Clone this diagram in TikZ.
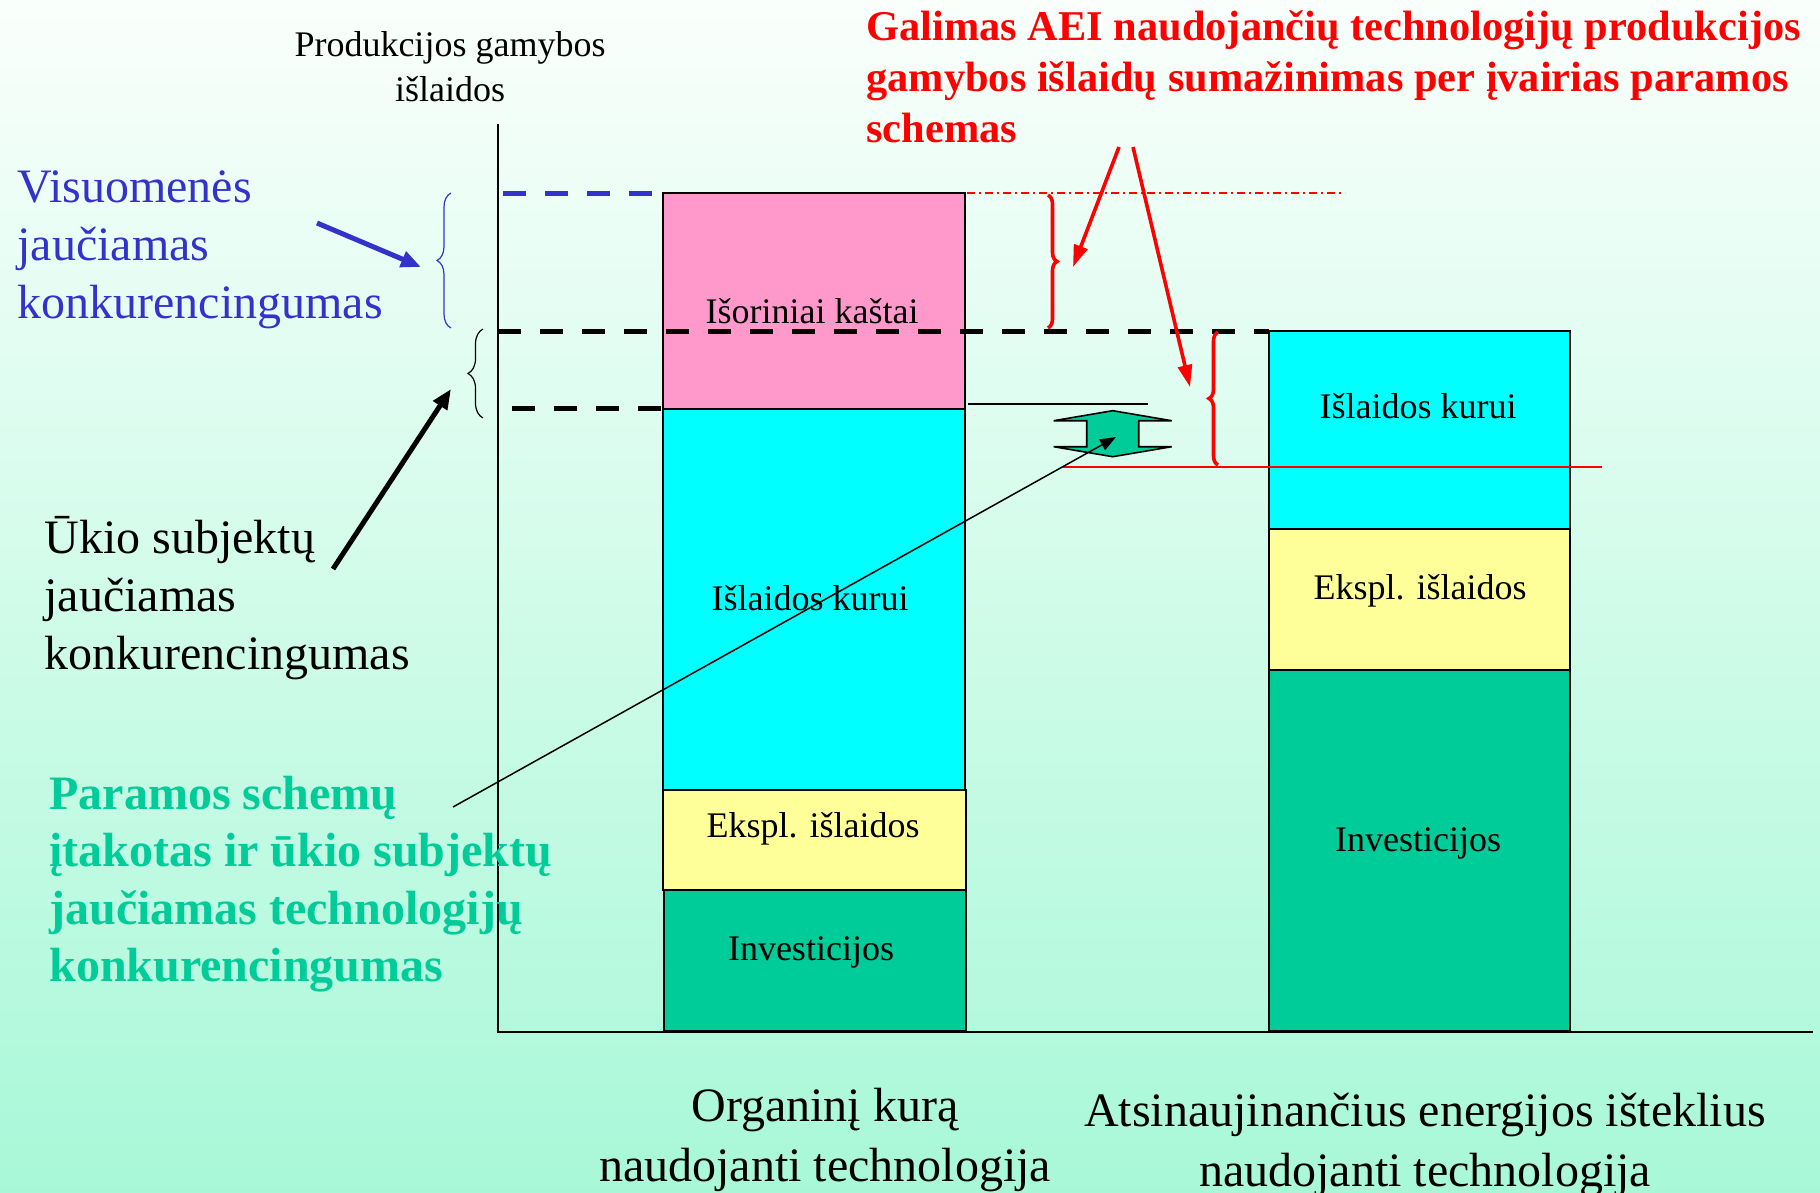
\documentclass[tikz,border=0pt]{standalone}
\usepackage{fontspec}
\setmainfont{Liberation Serif}
\usetikzlibrary{arrows.meta, positioning, calc, decorations.pathreplacing}
\definecolor{fonvirsus}{RGB}{250,255,252}
\definecolor{fonapacia}{RGB}{168,248,216}
\definecolor{rozine}{RGB}{255,153,204}
\definecolor{zydra}{RGB}{0,255,255}
\definecolor{geltona}{RGB}{255,255,153}
\definecolor{zalia}{RGB}{0,204,153}
\definecolor{melyna}{RGB}{51,51,204}
\definecolor{raudona}{RGB}{255,0,0}

\begin{document}
\begin{tikzpicture}[x=0.5pt, y=-0.5pt, font=\fontsize{18}{22.5}\selectfont,
        juosta/.style={draw=black, line width=1pt},
        didelis/.style={font=\fontsize{24}{29}\selectfont, align=left, anchor=west, inner sep=0pt},
        apacia/.style={font=\fontsize{24}{30}\selectfont, align=center, inner sep=0pt},
        brukn/.style={line width=2.5pt, dash pattern=on 11.5pt off 9.5pt},
        skliaustas/.style={decorate, decoration={brace, amplitude=#1}},
        rodykle/.style={-{Triangle[length=10pt, width=8pt]}, line width=2.5pt},
        raudrod/.style={-{Triangle[length=11pt, width=7pt]}, line width=1.8pt, draw=raudona}]
        \useasboundingbox (0,0) rectangle (1820,1193);
        \shade[top color=fonvirsus, bottom color=fonapacia] (0,0) rectangle (1820,1193);

        % stulpeliai
        \foreach \xa/\xb/\ya/\yb/\spalva in {
            663/965/193/409/rozine, 663/965/409/790/zydra,
            663/966/790/890/geltona, 664/966/890/1031/zalia,
            1269/1570/331/529/zydra, 1269/1570/529/670/geltona,
            1269/1570/670/1031/zalia}
        {
            \draw[juosta, fill=\spalva] (\xa,\ya) rectangle (\xb,\yb);
        }
        \foreach \i/\x/\y/\txt in {
            1/812/311/{Išoriniai kaštai},
            2/810/598/{Išlaidos kurui},
            3/813/829/{Ekspl. išlaidos},
            4/811/952/{Investicijos},
            5/1418/406/{Išlaidos kurui},
            6/1420/591/{Ekspl. išlaidos},
            7/1418/843/{Investicijos}}
        {
            \node[inner sep=0pt] (s\i) at (\x,\y) {\txt};
        }

        % asys
        \coordinate (O) at (498,1032);
        \draw[line width=1pt] (498,124) -- (O) -- (1813,1032);
        \node[align=center, inner sep=0pt] (asis) at (450,67) {Produkcijos gamybos\\išlaidos};

        % lygiai
        \draw[brukn, melyna] (503,193) -- (661,193);
        \draw[brukn] (498,331) -- (1269,331);
        \draw[brukn] (512,408) -- (662,408);
        \draw[line width=0.8pt] (968,404) -- (1148,404);
        \draw[raudona, line width=0.6pt, dash pattern=on 4pt off 2pt on 1pt off 2pt] (967,193) -- (1345,193);
        \draw[raudona, line width=0.8pt] (1063,467) -- (1602,467);

        % skliaustai
        \draw[melyna, line width=0.6pt, skliaustas=7pt] (451,328) -- (451,193);
        \draw[line width=0.6pt, skliaustas=7.5pt] (483,418) -- (483,329);
        \draw[raudona, line width=1.8pt, skliaustas=4.5pt] (1048,195) -- (1048,328);
        \draw[raudona, line width=1.8pt, skliaustas=4.5pt] (1218,465) -- (1218,332);

        % dviguba rodykle
        \coordinate (dbl) at (1112.7,433.7);
        \draw[fill=zalia, line width=0.8pt] (dbl) ++(0,-23) -- ++(-59,10) -- ++(33,0)
            -- ++(0,26) -- ++(-33,0) -- ++(59,10) -- ++(59,-10) -- ++(-33,0)
            -- ++(0,-26) -- ++(33,0) -- cycle;

        % tekstai
        \node[didelis, text=melyna] (visuom) at (17,250) {Visuomenės\\jaučiamas\\konkurencingumas};
        \node[didelis] (ukio) at (44,598) {Ūkio subjektų\\jaučiamas\\konkurencingumas};
        \node[didelis, text=zalia, font=\fontsize{24}{28.7}\selectfont\bfseries] (param) at (49,884)
            {Paramos schemų\\įtakotas ir ūkio subjektų\\jaučiamas technologijų\\konkurencingumas};
        \node[didelis, text=raudona, font=\fontsize{21.2}{25.5}\selectfont\bfseries] (galim) at (866,77)
            {Galimas AEI naudojančių technologijų produkcijos\\gamybos išlaidų sumažinimas per įvairias paramos\\schemas};
        \node[apacia] (org) at (825,1140) {Organinį kurą\\naudojanti technologija};
        \node[apacia] (aei) at (1425,1145) {Atsinaujinančius energijos išteklius\\naudojanti technologija};

        % rodykles
        \coordinate (vis-pr) at (317,223);
        \coordinate (vis-gl) at (421,267);
        \coordinate (uk-pr) at (333,569);
        \coordinate (uk-gl) at (451,389);
        \coordinate (par-pr) at (453,807);
        \coordinate (par-gl) at (1116,437);
        \coordinate (gal-pr1) at (1119,147);
        \coordinate (gal-gl1) at (1073,267);
        \coordinate (gal-pr2) at (1133,147);
        \coordinate (gal-gl2) at (1190,387);
        \draw[rodykle, melyna] (vis-pr) -- (vis-gl);
        \draw[rodykle] (uk-pr) -- (uk-gl);
        \draw[-{Triangle[length=8pt, width=6pt]}, line width=0.75pt] (par-pr) -- (par-gl);
        \draw[raudrod] (gal-pr1) -- (gal-gl1);
        \draw[raudrod] (gal-pr2) -- (gal-gl2);
    \end{tikzpicture}
\end{document}
